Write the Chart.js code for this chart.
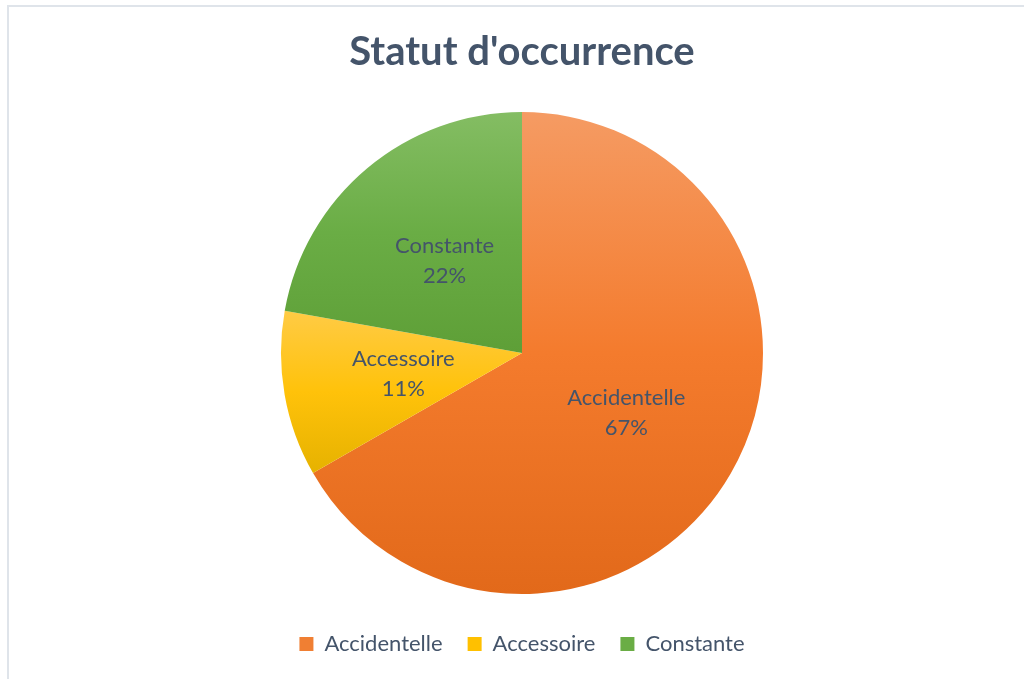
<!DOCTYPE html>
<html>
<head>
<meta charset="utf-8">
<script src="https://cdn.jsdelivr.net/npm/chart.js@4.4.1/dist/chart.umd.min.js"></script>
<style>
  body { margin: 0; background: #fff; overflow: hidden; }
  #frame { position: absolute; left: 7px; top: 5px; width: 1100px; height: 800px; border: 2px solid #dfe4ea; }
  #occChart { position: absolute; left: 0; top: 0; }
</style>
</head>
<body>
<div id="frame"></div>
<canvas id="occChart" width="1024" height="679"></canvas>
<script>
// données
const categories = ['Accidentelle', 'Accessoire', 'Constante'];
const percents = [66.7, 11.1, 22.2];
const pctLabels = ['67%', '11%', '22%'];

// dégradés style Excel (haut -> milieu -> bas)
const sliceStops = [
  ['#f59b63', '#f47b2d', '#e2691a'],
  ['#ffcb45', '#ffc20a', '#e6b200'],
  ['#84bd63', '#6aad45', '#5e9f37']
];
const plainColors = ['#f07f33', '#ffc000', '#6aad45'];
const PIE_R = 241;
const textColor = '#44546a';

// limites verticales d'une part, calculées depuis les données
function sliceBounds(chart, i) {
  const area = chart.chartArea;
  const cy = (area.top + area.bottom) / 2;
  const total = percents.reduce((a, b) => a + b, 0);
  let cum = 0;
  for (let k = 0; k < i; k++) cum += percents[k];
  const a0 = -Math.PI / 2 + 2 * Math.PI * cum / total;
  const a1 = a0 + 2 * Math.PI * percents[i] / total;
  const ys = [cy, cy + PIE_R * Math.sin(a0), cy + PIE_R * Math.sin(a1)];
  if (a0 <= -Math.PI / 2 + 1e-6 || a1 >= 1.5 * Math.PI - 1e-6) ys.push(cy - PIE_R);
  if (a0 <= Math.PI / 2 && a1 >= Math.PI / 2) ys.push(cy + PIE_R);
  return [Math.min(...ys), Math.max(...ys)];
}

function sliceFill(ctx) {
  const chart = ctx.chart;
  const i = ctx.dataIndex;
  if (!chart.chartArea || i === undefined) return plainColors[i] || plainColors[0];
  const [y0, y1] = sliceBounds(chart, i);
  const g = chart.ctx.createLinearGradient(0, y0, 0, y1);
  g.addColorStop(0, sliceStops[i][0]);
  g.addColorStop(0.5, sliceStops[i][1]);
  g.addColorStop(1, sliceStops[i][2]);
  return g;
}

// étiquettes dans les parts (nom + pourcentage)
const sliceLabels = {
  id: 'sliceLabels',
  afterDatasetsDraw(chart) {
    const c = chart.ctx;
    const meta = chart.getDatasetMeta(0);
    c.save();
    c.fillStyle = textColor;
    c.font = '22px Lato';
    c.textAlign = 'center';
    c.textBaseline = 'middle';
    meta.data.forEach((arc, i) => {
      const p = arc.getCenterPoint();
      c.fillText(categories[i], p.x, p.y - 15);
      c.fillText(pctLabels[i], p.x, p.y + 15);
    });
    c.restore();
  }
};

new Chart(document.getElementById('occChart'), {
  type: 'pie',
  data: {
    labels: categories,
    datasets: [{
      data: percents,
      backgroundColor: sliceFill,
      borderWidth: 0,
      radius: PIE_R
    }]
  },
  options: {
    responsive: false,
    animation: false,
    layout: { padding: { left: 20, top: 0, bottom: 14 } },
    plugins: {
      tooltip: { enabled: false },
      title: {
        display: true,
        text: "Statut d'occurrence",
        color: textColor,
        font: { family: 'Lato', size: 40, weight: 'bold' },
        padding: { top: 28, bottom: 22 }
      },
      legend: {
        position: 'bottom',
        labels: {
          color: textColor,
          font: { family: 'Lato', size: 22 },
          boxWidth: 14,
          boxHeight: 14,
          padding: 25,
          generateLabels(chart) {
            return categories.map((name, i) => ({
              text: name,
              fillStyle: plainColors[i],
              strokeStyle: plainColors[i],
              lineWidth: 0,
              fontColor: textColor,
              index: i
            }));
          }
        }
      }
    }
  },
  plugins: [sliceLabels]
});
</script>
</body>
</html>
